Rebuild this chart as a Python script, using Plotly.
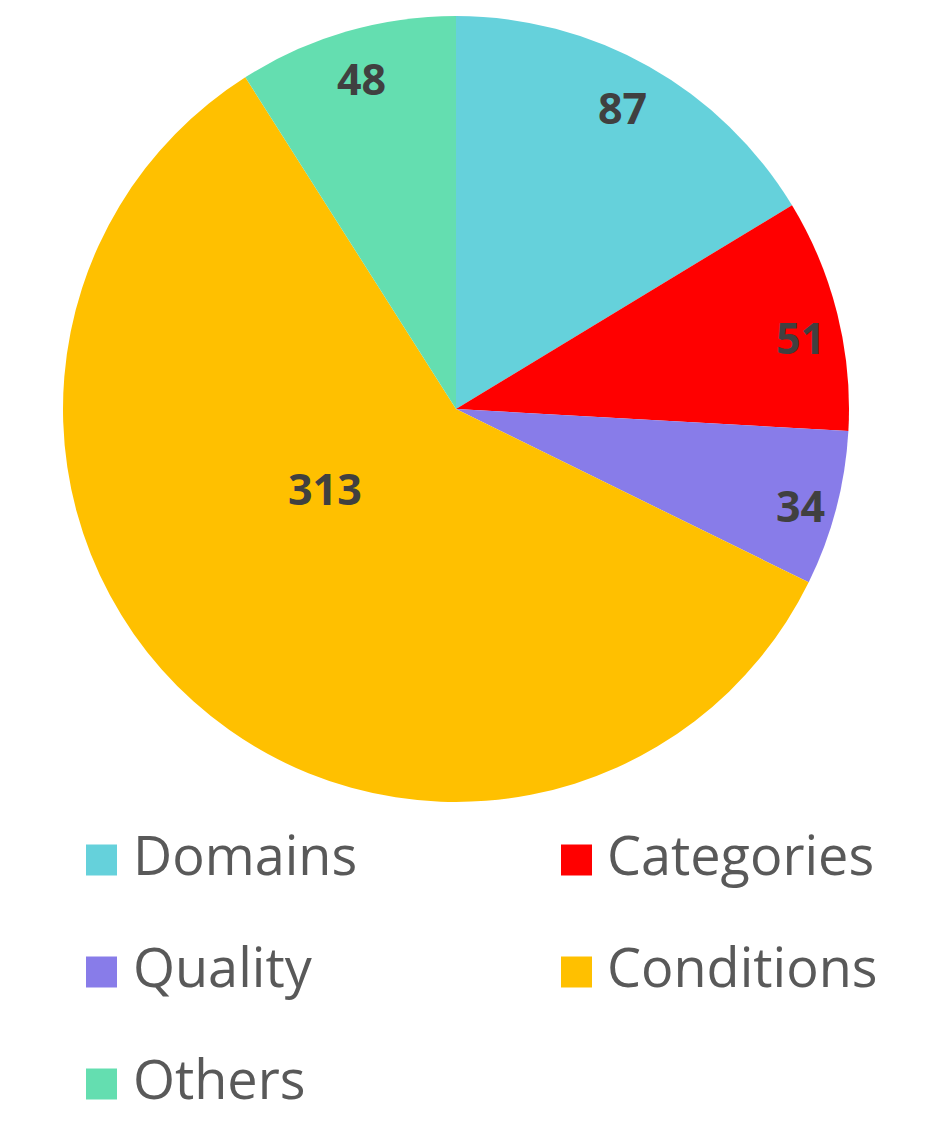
import math
import plotly.graph_objects as go

names = ["Domains", "Categories", "Quality", "Conditions", "Others"]
values = [87, 51, 34, 313, 48]
colors = ["#65D1DB", "#FF0000", "#887CE9", "#FFC000", "#64DEB0"]

W, H = 951, 1140
OFF = 8  # page body margin
cx, cy, R = 456 - OFF, 409 - OFF, 393


def px(x):
    return x / W


def py(y):
    return 1 - y / H


fig = go.Figure()
fig.add_trace(go.Pie(
    labels=names, values=values, sort=False, direction="clockwise", rotation=0,
    marker=dict(colors=colors, line=dict(width=0)),
    textinfo="none",
    domain=dict(x=[px(cx - R), px(cx + R)], y=[py(cy + R), py(cy - R)]),
    showlegend=False, hoverinfo="label+value",
))

# value labels along each slice's bisector, nudged like Excel's best fit
total = sum(values)
start = 0
nudge = [(0.875, -0.5), (0.895, 2.3), (0.91, 1.0), (0.39, 17.0), (0.875, 0.3)]  # (radius frac, angle shift)
for v, (frac, da) in zip(values, nudge):
    mid = (start + v / 2) / total * 360
    start += v
    a = math.radians(mid + da)
    x = cx + frac * R * math.sin(a)
    y = cy - frac * R * math.cos(a)
    fig.add_annotation(text="<b>%d</b>" % v, xref="paper", yref="paper",
                       x=px(x), y=py(y), xanchor="center", yanchor="middle",
                       showarrow=False,
                       font=dict(family="Open Sans", size=43, color="#404040"))

# legend drawn by hand so the colour squares can be as large as in the reference
rows = [860, 972, 1084]
cols = [(86, 135), (561, 609)]
for i, (n, c) in enumerate(zip(names, colors)):
    sx, tx = cols[i % 2]
    ry = rows[i // 2]
    fig.add_shape(type="rect", xref="paper", yref="paper",
                  x0=px(sx - OFF), x1=px(sx - OFF + 31),
                  y0=py(ry - OFF + 15.5), y1=py(ry - OFF - 15.5),
                  fillcolor=c, line=dict(width=0))
    fig.add_annotation(text=n, xref="paper", yref="paper",
                       x=px(tx - OFF - 4), y=py(ry - OFF - 6),
                       xanchor="left", yanchor="middle", showarrow=False,
                       font=dict(family="Open Sans", size=54, color="#595959"))

fig.update_layout(width=W, height=H, margin=dict(l=0, r=0, t=0, b=0),
                  paper_bgcolor="white", plot_bgcolor="white")
fig.write_html("out.html")
